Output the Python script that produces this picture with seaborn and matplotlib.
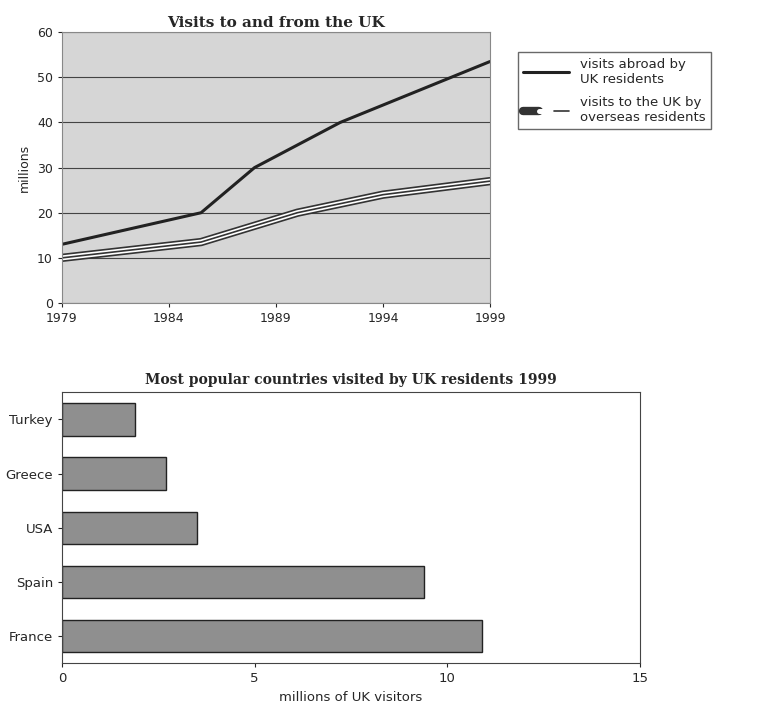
import matplotlib
matplotlib.use("Agg")
import matplotlib.pyplot as plt
import seaborn as sns
import pandas as pd
from matplotlib.legend_handler import HandlerTuple

# top chart data
abroad_years = [1979, 1985.5, 1988, 1992, 1999]
abroad_vals = [13, 20, 30, 40, 53.5]
overseas_years = [1979, 1985.5, 1990, 1994, 1999]
overseas_vals = [10, 13.5, 20, 24, 27]
year_ticks = [1979, 1984, 1989, 1994, 1999]

# bottom chart data
countries = ["Turkey", "Greece", "USA", "Spain", "France"]
visitors = [1.9, 2.7, 3.5, 9.4, 10.9]

sns.set_style("white")
plt.rcParams['font.family'] = ['DejaVu Sans']

fig = plt.figure(figsize=(7.74, 7.24), dpi=100)
ax1 = fig.add_axes([0.080, 0.5815, 0.553, 0.374])
ax2 = fig.add_axes([0.080, 0.084, 0.747, 0.374])

ax1.set_facecolor("#d6d6d6")
df_a = pd.DataFrame({"year": abroad_years, "v": abroad_vals})
df_o = pd.DataFrame({"year": overseas_years, "v": overseas_vals})
sns.lineplot(data=df_a, x="year", y="v", ax=ax1, color="#222222", lw=2.2)
l1 = ax1.lines[-1]
sns.lineplot(data=df_o, x="year", y="v", ax=ax1, color="#333333", lw=6)
la = ax1.lines[-1]
sns.lineplot(data=df_o, x="year", y="v", ax=ax1, color="white", lw=3.6)
lb = ax1.lines[-1]
sns.lineplot(data=df_o, x="year", y="v", ax=ax1, color="#333333", lw=1.2)
lc = ax1.lines[-1]

ax1.set_xlim(1979, 1999)
ax1.set_ylim(0, 60)
ax1.set_xticks(year_ticks)
ax1.set_yticks(range(0, 61, 10))
ax1.yaxis.grid(True, color="#444444", lw=0.8)
ax1.set_axisbelow(True)
ax1.set_xlabel("")
ax1.set_ylabel("millions", fontsize=9)
ax1.set_title("Visits to and from the UK", fontsize=11, fontweight="bold",
              family="DejaVu Serif", pad=4)
ax1.tick_params(labelsize=9, length=3, left=True, bottom=True)
for s in ax1.spines.values():
    s.set_color("#888888")

ax1.legend([l1, (la, lb, lc)],
           ["visits abroad by\nUK residents", "visits to the UK by\noverseas residents"],
           handler_map={tuple: HandlerTuple(ndivide=None, pad=0)},
           loc="upper left", bbox_to_anchor=(1.05, 0.95), fontsize=9.5,
           frameon=True, fancybox=False, edgecolor="#444444", handlelength=3.5,
           labelspacing=0.8)

df_b = pd.DataFrame({"country": countries, "v": visitors})
sns.barplot(data=df_b, y="country", x="v", ax=ax2, color="#8f8f8f",
            edgecolor="#222222", linewidth=1, width=0.6, saturation=1)
ax2.set_xlim(0, 15)
ax2.set_xticks([0, 5, 10, 15])
ax2.set_ylabel("")
ax2.set_xlabel("millions of UK visitors", fontsize=9.5)
ax2.set_title("Most popular countries visited by UK residents 1999", fontsize=10,
              fontweight="bold", family="DejaVu Serif", pad=6)
ax2.tick_params(labelsize=9.5, length=3, left=True, bottom=True)
for s in ax2.spines.values():
    s.set_color("#444444")

fig.savefig("out.png", dpi=100)
